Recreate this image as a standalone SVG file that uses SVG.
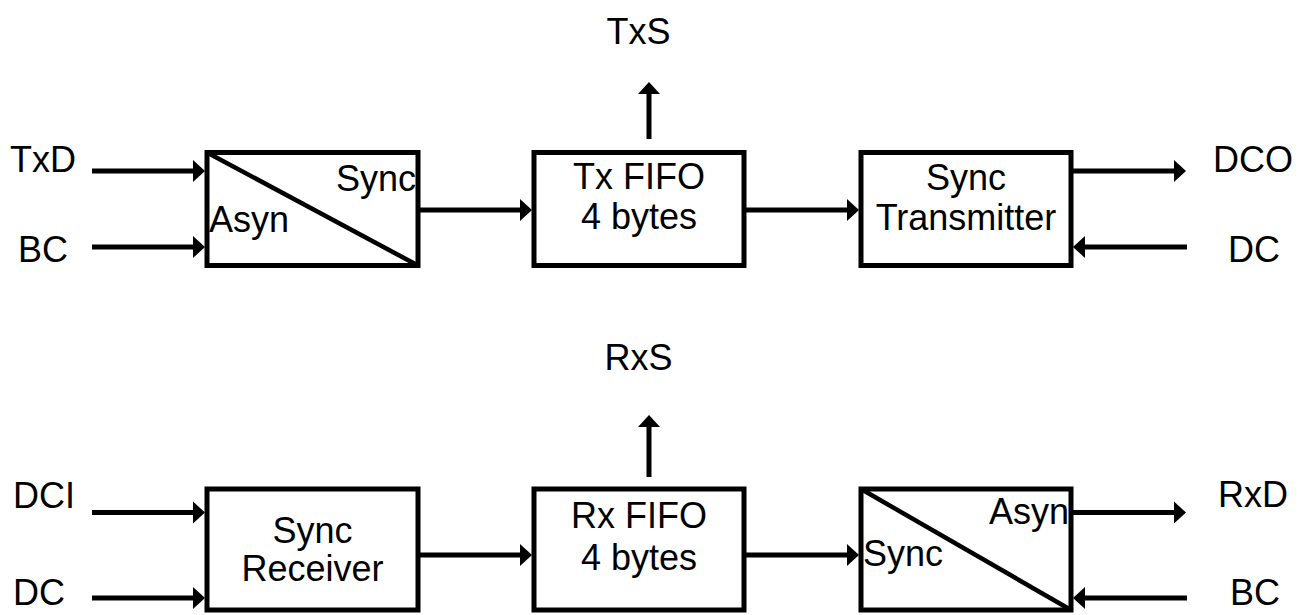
<svg xmlns="http://www.w3.org/2000/svg" width="1306" height="615" viewBox="0 0 1306 615">
<style>
  .box { fill: #fff; stroke: #000; stroke-width: 5; }
  .diag { stroke: #000; stroke-width: 4.5; fill: none; }
  .wire { stroke: #000; stroke-width: 5; fill: none; marker-end: url(#arr); }
  text { font-family: "Liberation Sans", Arial, sans-serif; font-size: 36px; fill: #000; }
  .c { text-anchor: middle; }
  .e { text-anchor: end; }
</style>
<defs>
  <marker id="arr" markerUnits="userSpaceOnUse" viewBox="0 0 12 24" markerWidth="12" markerHeight="24" refX="4" refY="12" orient="auto">
    <path d="M0,1 L12,12 L0,23 Z" fill="#000"/>
  </marker>
</defs>
<rect width="1306" height="615" fill="#fff"/>

<g id="connectors">
  <line class="wire" x1="92" y1="171" x2="197" y2="171"/>
  <line class="wire" x1="92" y1="247" x2="197" y2="247"/>
  <line class="wire" x1="420" y1="210" x2="524" y2="210"/>
  <line class="wire" x1="746" y1="210" x2="851" y2="210"/>
  <line class="wire" x1="1073" y1="171" x2="1178" y2="171"/>
  <line class="wire" x1="1187" y1="247" x2="1081" y2="247"/>
  <line class="wire" x1="649" y1="139" x2="649" y2="90"/>

  <line class="wire" x1="92" y1="512.5" x2="197" y2="512.5"/>
  <line class="wire" x1="92" y1="598" x2="197" y2="598"/>
  <line class="wire" x1="420" y1="555" x2="524" y2="555"/>
  <line class="wire" x1="746" y1="555" x2="851" y2="555"/>
  <line class="wire" x1="1073" y1="512.5" x2="1178" y2="512.5"/>
  <line class="wire" x1="1187" y1="598" x2="1081" y2="598"/>
  <line class="wire" x1="649" y1="477" x2="649" y2="423"/>
</g>

<g id="labels">
  <text x="10" y="172">TxD</text>
  <text x="18" y="262">BC</text>
  <text x="1213" y="172">DCO</text>
  <text x="1228" y="262">DC</text>
  <text class="c" x="638.5" y="44">TxS</text>
  <text x="13" y="508">DCI</text>
  <text x="13" y="605">DC</text>
  <text x="1218" y="507">RxD</text>
  <text x="1230" y="605">BC</text>
  <text class="c" x="638.5" y="370">RxS</text>
</g>

<g id="tx-conv">
  <rect class="box" x="207" y="152.5" width="211" height="113"/>
  <line class="diag" x1="207" y1="152.5" x2="418" y2="265.5"/>
  <text class="e" x="416" y="191">Sync</text>
  <text x="209" y="232">Asyn</text>
</g>
<g id="tx-fifo">
  <rect class="box" x="534" y="152.5" width="210" height="113"/>
  <text class="c" x="639" y="189">Tx FIFO</text>
  <text class="c" x="639" y="229">4 bytes</text>
</g>
<g id="sync-tx">
  <rect class="box" x="861" y="152.5" width="210" height="113"/>
  <text class="c" x="966" y="190">Sync</text>
  <text class="c" x="966" y="230">Transmitter</text>
</g>

<g id="sync-rx">
  <rect class="box" x="207" y="489" width="211" height="121"/>
  <text class="c" x="312.5" y="543">Sync</text>
  <text class="c" x="312.5" y="581">Receiver</text>
</g>
<g id="rx-fifo">
  <rect class="box" x="534" y="489" width="210" height="121"/>
  <text class="c" x="639" y="528">Rx FIFO</text>
  <text class="c" x="639" y="570">4 bytes</text>
</g>
<g id="rx-conv">
  <rect class="box" x="861" y="489" width="210" height="121"/>
  <line class="diag" x1="861" y1="489" x2="1071" y2="610"/>
  <text class="e" x="1069" y="524">Asyn</text>
  <text x="863" y="566">Sync</text>
</g>
</svg>
